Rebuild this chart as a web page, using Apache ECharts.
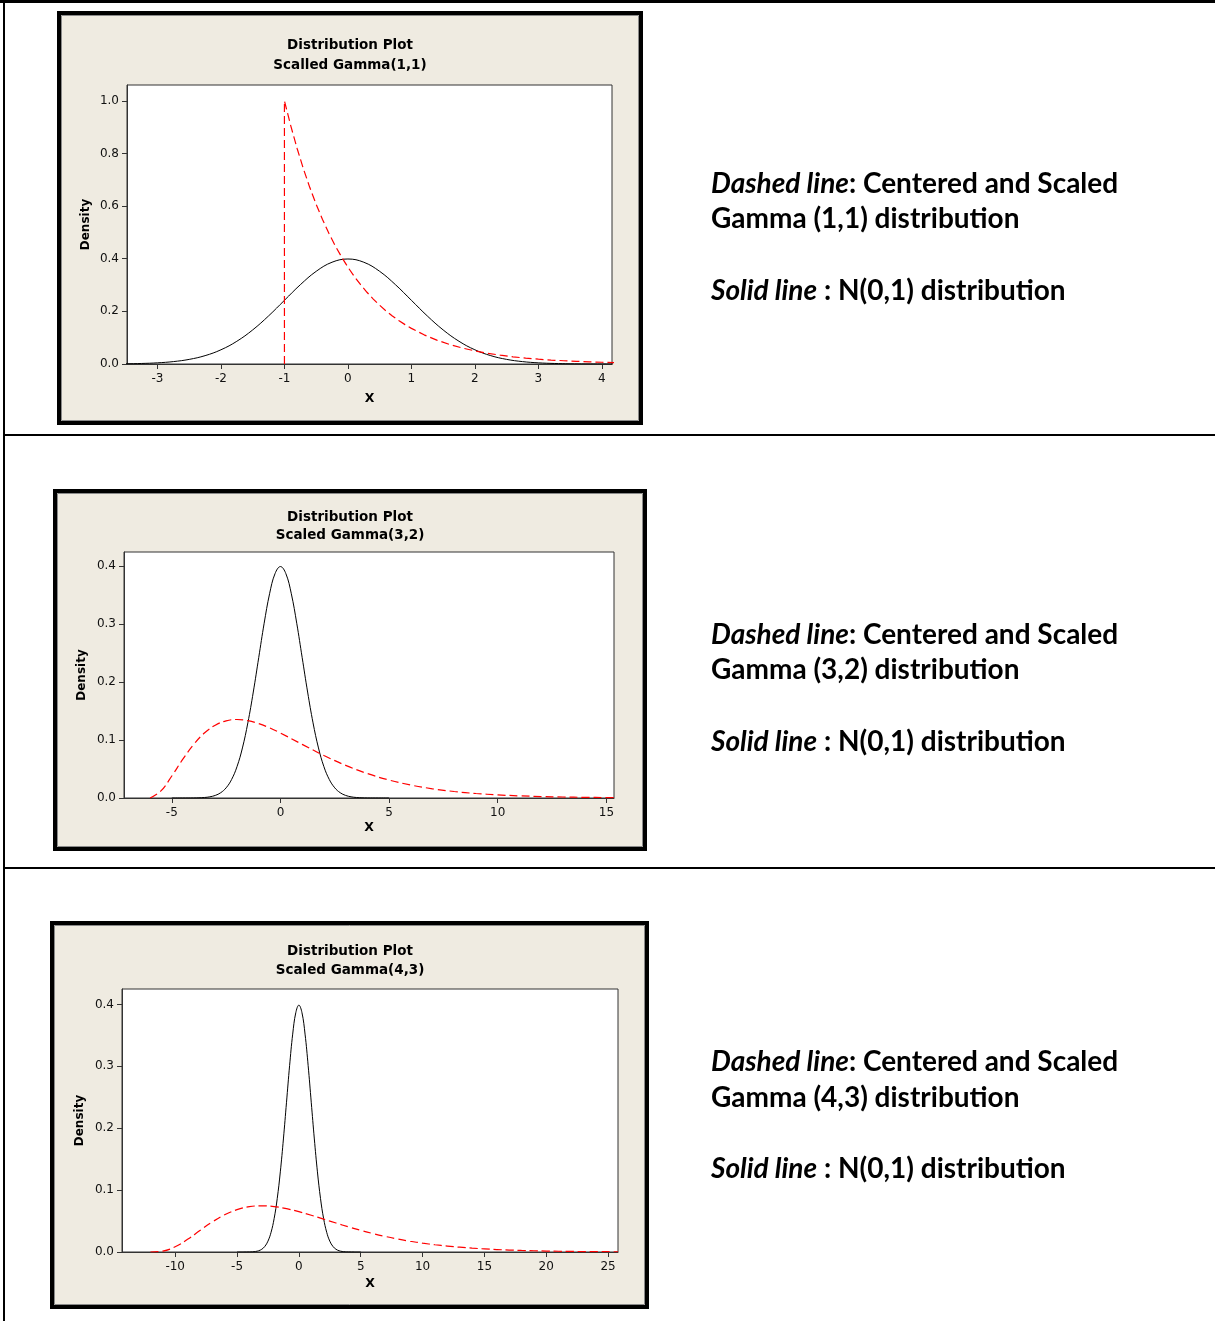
<!DOCTYPE html>
<html><head><meta charset="utf-8">
<script src="https://cdn.jsdelivr.net/npm/echarts@6/dist/echarts.min.js"></script>
<style>html,body{margin:0;padding:0;background:#fff}#c{width:1215px;height:1321px}</style>
</head><body><div id="c"></div>
<script>
// ---- Data ----
// Standard normal N(0,1) density (solid black line)
const normalX = [-5,-4.5,-4,-3.75,-3.5,-3.25,-3,-2.75,-2.5,-2.25,-2,-1.75,-1.5,-1.25,-1,-0.75,-0.5,-0.25,0,0.25,0.5,0.75,1,1.25,1.5,1.75,2,2.25,2.5,2.75,3,3.25,3.5,3.75,4,4.5,5];
const normalY = [0.0000015,0.000016,0.00013,0.00035,0.00087,0.00203,0.00443,0.00909,0.01753,0.03174,0.05399,0.08628,0.12952,0.18265,0.24197,0.30114,0.35207,0.38667,0.39894,0.38667,0.35207,0.30114,0.24197,0.18265,0.12952,0.08628,0.05399,0.03174,0.01753,0.00909,0.00443,0.00203,0.00087,0.00035,0.00013,0.000016,0.0000015];

// Centered and scaled Gamma(1,1) (dashed red, panel 1)
const gamma11X = [-1,-1,-0.9,-0.8,-0.7,-0.6,-0.5,-0.4,-0.3,-0.2,-0.1,0,0.1,0.2,0.3,0.4,0.5,0.6,0.7,0.8,0.9,1.0,1.2,1.4,1.6,1.8,2.0,2.2,2.4,2.6,2.8,3.0,3.2,3.4,3.6,3.8,4.0,4.2];
const gamma11Y = [0,1,0.9048,0.8187,0.7408,0.6703,0.6065,0.5488,0.4966,0.4493,0.4066,0.3679,0.3329,0.3012,0.2725,0.2466,0.2231,0.2019,0.1827,0.1653,0.1496,0.1353,0.1108,0.0907,0.0743,0.0608,0.0498,0.0408,0.0334,0.0273,0.0224,0.0183,0.0150,0.0123,0.0101,0.0082,0.0067,0.0055];

// Centered and scaled Gamma(3,2) (dashed red, panel 2)
const gamma32X = [-6,-5.5,-5,-4.5,-4,-3.5,-3,-2.5,-2,-1.5,-1,-0.5,0,1,2,3,4,5,6,7,8,9,10,11,12,13,14,15,15.4];
const gamma32Y = [0,0.01217,0.03791,0.06643,0.09197,0.11191,0.12552,0.13304,0.13534,0.13339,0.12826,0.12087,0.11202,0.09248,0.07326,0.05624,0.04211,0.03091,0.02231,0.01588,0.01117,0.00778,0.00537,0.003675,0.0025,0.00169,0.001135,0.00076,0.00064];

// Centered and scaled Gamma(4,3) (dashed red, panel 3)
const gamma43X = [-12,-11,-10,-9,-8,-7,-6,-5,-4,-3,-2,-1,0,1,2,3,4,5,6,7,8,9,10,11,12,13,14,15,16,17,18,19,20,21,22,23,24,25,25.8];
const gamma43Y = [0,0.001474,0.00845,0.02044,0.03471,0.04858,0.06015,0.06844,0.07320,0.07468,0.07340,0.07000,0.06512,0.05933,0.05309,0.04679,0.04069,0.03497,0.02974,0.02507,0.02095,0.01738,0.01432,0.01172,0.00954,0.00773,0.00623,0.005,0.003994,0.00318,0.002522,0.001994,0.001572,0.001235,0.000968,0.000757,0.00059,0.000459,0.000375];

// Tick labels
const xTicks1 = [-3,-2,-1,0,1,2,3,4];
const xTicks2 = [-5,0,5,10,15];
const xTicks3 = [-10,-5,0,5,10,15,20,25];
const yTicks1 = [0,0.2,0.4,0.6,0.8,1.0];
const yTicks2 = [0,0.1,0.2,0.3,0.4];
const yTicks3 = [0,0.1,0.2,0.3,0.4];

// Texts
const plotTitles = [
  ['Distribution Plot','Scalled Gamma(1,1)'],
  ['Distribution Plot','Scaled Gamma(3,2)'],
  ['Distribution Plot','Scaled Gamma(4,3)']
];
const gammaLabels = ['Gamma (1,1) distribution','Gamma (3,2) distribution','Gamma (4,3) distribution'];

// ---- Layout ----
const zip = (xs, ys) => xs.map((x, i) => [x, ys[i]]);
const PANELS = [
  {box:[57,11,643,425], grid:{left:127,top:85,width:485,height:279}, xr:[-3.48,4.16], yr:[0,1.06], xt:xTicks1, yt:yTicks1, yint:0.2, titleY:[45,65], xGap:28, yGap:35, textY:[184,219,291]},
  {box:[53,489,647,851], grid:{left:124,top:552,width:490,height:246}, xr:[-7.2,15.35], yr:[0,0.424], xt:xTicks2, yt:yTicks2, yint:0.1, titleY:[517,535], xGap:23, yGap:36, textY:[635,670,742]},
  {box:[50,921,649,1309], grid:{left:122,top:989,width:496,height:263}, xr:[-14.3,25.8], yr:[0,0.425], xt:xTicks3, yt:yTicks3, yint:0.1, titleY:[951,970], xGap:25, yGap:36, textY:[1062,1098,1169]}
];
const redSeries = [zip(gamma11X,gamma11Y), zip(gamma32X,gamma32Y), zip(gamma43X,gamma43Y)];
const blackSeries = zip(normalX, normalY);

const BEIGE = '#efebe1';
const FRAME = '#333';
const tickFont = {fontFamily:'DejaVu Sans', fontSize:12, color:'#111'};
const RICH = {
  i:{fontFamily:'Lato', fontSize:28, fontWeight:'bold', fontStyle:'italic', color:'#000'},
  b:{fontFamily:'Lato', fontSize:28, fontWeight:'bold', color:'#000'}
};

const grids = [], xAxes = [], yAxes = [], series = [], graphics = [];

// table lines
graphics.push({type:'rect', shape:{x:0,y:0,width:1215,height:3}, style:{fill:'#000'}, z:1});
graphics.push({type:'rect', shape:{x:3,y:0,width:2,height:1321}, style:{fill:'#000'}, z:1});
graphics.push({type:'rect', shape:{x:3,y:434,width:1212,height:2}, style:{fill:'#000'}, z:1});
graphics.push({type:'rect', shape:{x:3,y:867,width:1212,height:2}, style:{fill:'#000'}, z:1});

PANELS.forEach((p, i) => {
  const [x0,y0,x1,y1] = p.box;
  graphics.push({type:'rect', shape:{x:x0+2,y:y0+2,width:x1-x0-4,height:y1-y0-4}, style:{fill:BEIGE, stroke:'#000', lineWidth:4}, z:-10});
  graphics.push({type:'rect', shape:{x:x0+4.5,y:y0+4.5,width:x1-x0-9,height:y1-y0-9}, style:{fill:null, stroke:'#8a8a8a', lineWidth:1}, z:-9});
  p.titleY.forEach((ty, k) => {
    graphics.push({type:'text', x:350, y:ty, z:10, style:{text:plotTitles[i][k], font:'bold 13.5px "DejaVu Sans"', fill:'#000', textAlign:'center', textVerticalAlign:'middle'}});
  });
  // right-hand description
  graphics.push({type:'text', x:711, y:p.textY[0], z:10, style:{
    text:'{i|Dashed line}{b|: Centered and Scaled}', textVerticalAlign:'middle', rich:RICH}});
  graphics.push({type:'text', x:711, y:p.textY[1], z:10, style:{
    text:'{b|' + gammaLabels[i] + '}', textVerticalAlign:'middle', rich:RICH}});
  graphics.push({type:'text', x:711, y:p.textY[2], z:10, style:{
    text:'{i|Solid line}{b| : N(0,1) distribution}', textVerticalAlign:'middle', rich:RICH}});

  grids.push(Object.assign({show:true, backgroundColor:'#fff', borderColor:FRAME, borderWidth:1, containLabel:false}, p.grid));
  xAxes.push({
    type:'value', gridIndex:i, min:p.xr[0], max:p.xr[1],
    name:'X', nameLocation:'middle', nameGap:p.xGap,
    nameTextStyle:{fontFamily:'DejaVu Sans', fontSize:12.5, fontWeight:'bold', color:'#000'},
    axisLine:{show:true, onZero:false, lineStyle:{color:FRAME}},
    axisTick:{show:true, length:5, lineStyle:{color:FRAME}, customValues:p.xt},
    axisLabel:Object.assign({margin:9, customValues:p.xt, formatter:v => String(v)}, tickFont),
    splitLine:{show:false}
  });
  yAxes.push({
    type:'value', gridIndex:i, min:p.yr[0], max:p.yr[1], interval:p.yint,
    name:'Density', nameLocation:'middle', nameGap:p.yGap,
    nameTextStyle:{fontFamily:'DejaVu Sans', fontSize:12, fontWeight:'bold', color:'#000'},
    axisLine:{show:true, onZero:false, lineStyle:{color:FRAME}},
    axisTick:{show:true, length:5, lineStyle:{color:FRAME}, customValues:p.yt},
    axisLabel:Object.assign({margin:8, customValues:p.yt, formatter:v => v.toFixed(1)}, tickFont),
    splitLine:{show:false}
  });
  series.push({
    type:'line', xAxisIndex:i, yAxisIndex:i, data:blackSeries, showSymbol:false, symbol:'none',
    smooth:0.4, lineStyle:{color:'#000', width:1}, clip:true, silent:true, z:3
  });
  series.push({
    type:'line', xAxisIndex:i, yAxisIndex:i, data:redSeries[i], showSymbol:false, symbol:'none',
    smooth: i === 0 ? false : 0.4,
    lineStyle:{color:'#ff0000', width:1.2, type:[8,4]}, clip:true, silent:true, z:4
  });
});

const chart = echarts.init(document.getElementById('c'), null, {renderer:'canvas'});
chart.setOption({
  animation:false,
  backgroundColor:'#fff',
  grid:grids, xAxis:xAxes, yAxis:yAxes, series:series,
  graphic:{elements:graphics}
});
</script>
</body></html>
